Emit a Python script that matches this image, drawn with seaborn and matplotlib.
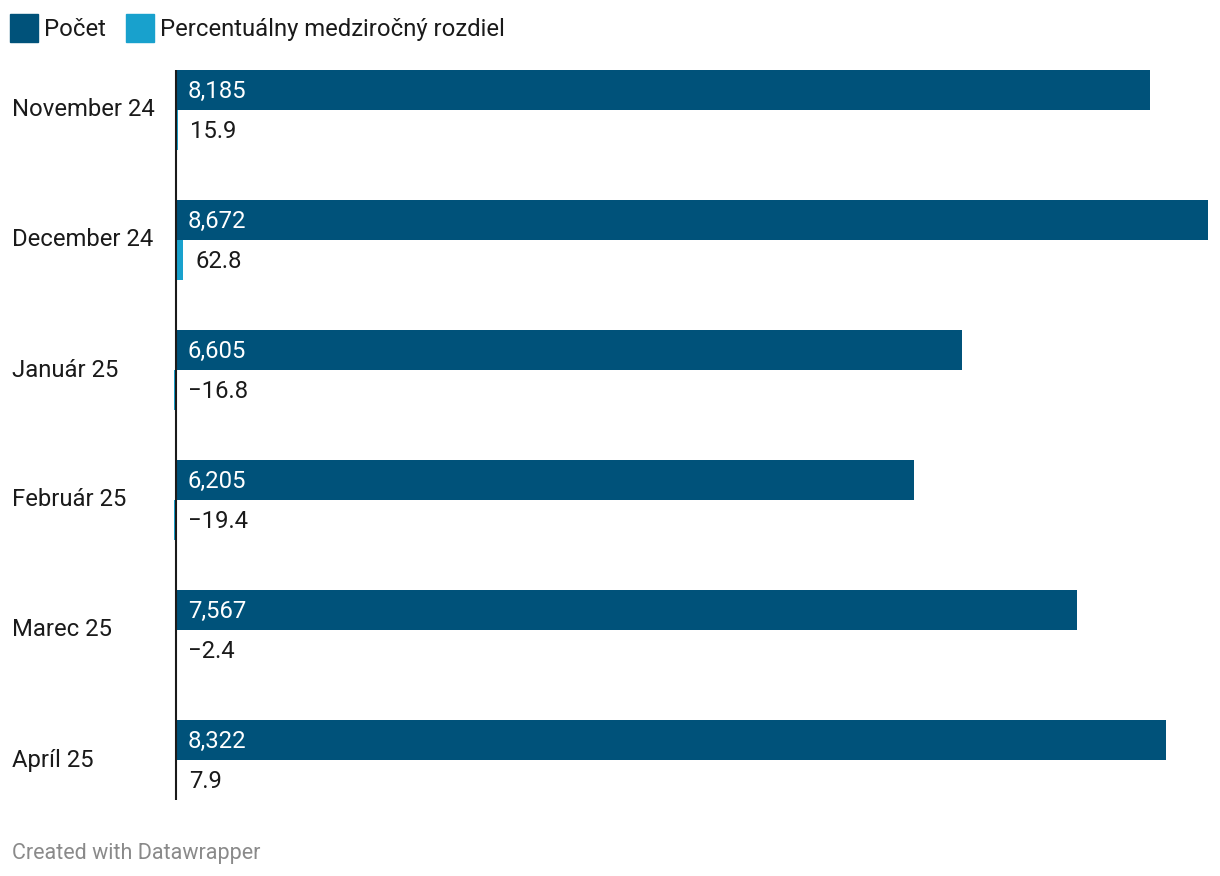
import pandas as pd
import matplotlib.pyplot as plt
import matplotlib.patches as mpatches
import seaborn as sns

# ---------- DATA ----------
months = ["November 24", "December 24", "Január 25", "Február 25", "Marec 25", "Apríl 25"]
pocet = [8185, 8672, 6605, 6205, 7567, 8322]
percent = [15.9, 62.8, -16.8, -19.4, -2.4, 7.9]
series_names = ["Počet", "Percentuálny medziročný rozdiel"]

DARK = "#00527a"
LIGHT = "#18a1cd"

df = pd.DataFrame({
    "month": months * 2,
    "series": [series_names[0]] * len(months) + [series_names[1]] * len(months),
    "value": pocet + percent,
})

# ---------- LAYOUT (pixels) ----------
W, H = 1220, 876
zero_px, max_px = 176, 1208
ax_left, ax_right = 160, 1212
ax_top, ax_bottom = 70, 800
scale = (max_px - zero_px) / max(pocet)

sns.set_theme(style="white")
plt.rcParams["font.family"] = ["Roboto", "DejaVu Sans"]

fig = plt.figure(figsize=(W / 100, H / 100), dpi=100)
ax = fig.add_axes([ax_left / W, 1 - ax_bottom / H,
                   (ax_right - ax_left) / W, (ax_bottom - ax_top) / H])

sns.barplot(data=df, x="value", y="month", hue="series", orient="h",
            palette=[DARK, LIGHT], width=80 / 130, saturation=1,
            linewidth=0, legend=False, ax=ax)

ax.set_xlim((ax_left - zero_px) / scale, (ax_right - zero_px) / scale)
half = 40 / 130
ax.set_ylim(len(months) - 1 + half, -half)
ax.axvline(0, color="#1a1a1a", lw=1.5, zorder=5)

for s in ax.spines.values():
    s.set_visible(False)
ax.set_xticks([])
ax.set_yticks([])
ax.set_xlabel("")
ax.set_ylabel("")

FS = 17.2

# value labels
for bar, v in zip(ax.containers[0], pocet):
    ax.annotate(f"{v:,}", (0, bar.get_y() + bar.get_height() / 2),
                xytext=(8.5, -1.2), textcoords="offset points",
                ha="left", va="center", color="white", fontsize=FS)
for bar, v in zip(ax.containers[1], percent):
    txt = f"{v:.1f}".replace("-", "\u2212")
    ax.annotate(txt, (max(v, 0), bar.get_y() + bar.get_height() / 2),
                xytext=(8.5, -1.2), textcoords="offset points",
                ha="left", va="center", color="#1a1a1a", fontsize=FS)

# category labels
for i, m in enumerate(months):
    fig.text(12 / W, 1 - (110 + 130 * i) / H, m, ha="left", va="center",
             fontsize=FS, color="#1a1a1a")

# legend
legend_items = [(10, series_names[0], DARK), (126, series_names[1], LIGHT)]
for x0, name, col in legend_items:
    fig.add_artist(mpatches.Rectangle((x0 / W, 1 - 42 / H), 28 / W, 28 / H,
                                      transform=fig.transFigure, color=col))
    fig.text((x0 + 34) / W, 1 - 29.5 / H, name, ha="left", va="center",
             fontsize=FS, color="#1a1a1a")

fig.text(12 / W, 1 - 854 / H, "Created with Datawrapper", ha="left",
         va="center", fontsize=15.5, color="#8a8a8a")

fig.savefig("out.png", dpi=100)
